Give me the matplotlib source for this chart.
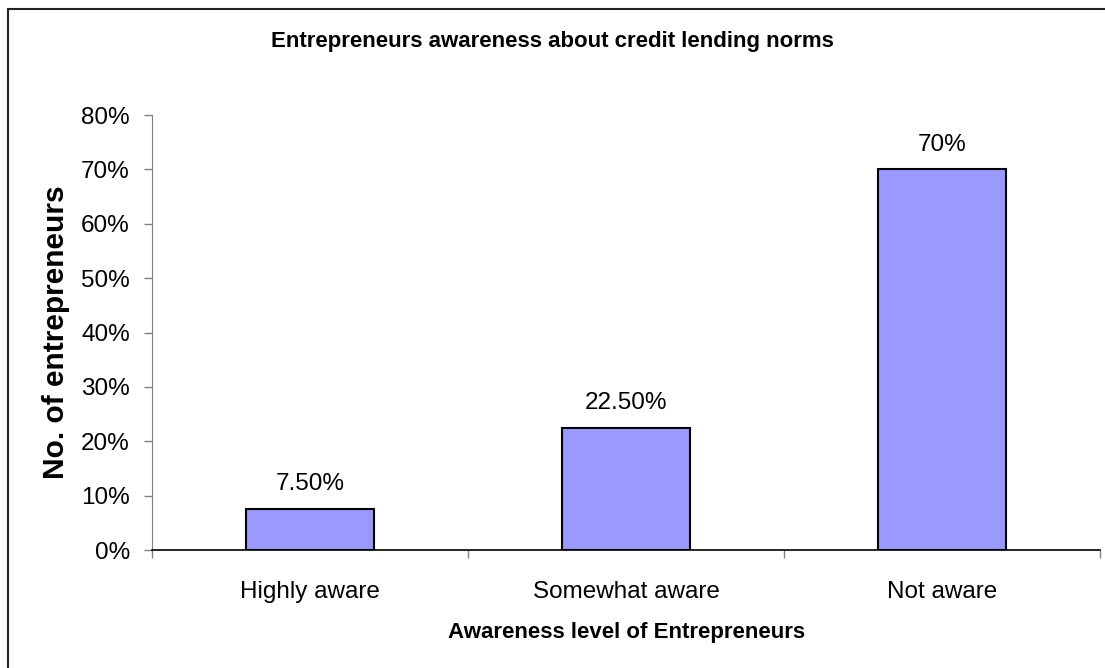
import matplotlib.pyplot as plt
from matplotlib.patches import Rectangle
from matplotlib.ticker import FuncFormatter

plt.rcParams['font.family'] = ['Liberation Sans', 'DejaVu Sans']

categories = ["Highly aware", "Somewhat aware", "Not aware"]
shares = [7.5, 22.5, 70]
share_labels = ["7.50%", "22.50%", "70%"]
y_ticks = [0, 10, 20, 30, 40, 50, 60, 70, 80]

fig = plt.figure(figsize=(11.05, 6.68), dpi=100)
ax = fig.add_axes([0.1376, 0.1766, 0.858, 0.6512])

pos = range(len(categories))
bars = ax.bar(pos, shares, width=0.405, color="#9999FF", edgecolor="black",
              linewidth=1.5, zorder=3)

for b, txt in zip(bars, share_labels):
    ax.annotate(txt, (b.get_x() + b.get_width() / 2, b.get_height()),
                xytext=(0, 10), textcoords="offset points",
                ha="center", va="bottom", fontsize=17.5)

ax.set_xlim(-0.5, 2.5)
ax.set_ylim(0, 80)
ax.set_yticks(y_ticks)
ax.yaxis.set_major_formatter(FuncFormatter(lambda v, p: f"{v:.0f}%"))
ax.tick_params(axis="y", labelsize=17.5, length=6, width=1, color="#808080", pad=10)

# category boundaries carry the x ticks, names sit between them
ax.set_xticks([-0.5, 0.5, 1.5, 2.5])
ax.set_xticklabels([])
ax.set_xticks(list(pos), minor=True)
ax.set_xticklabels(categories, minor=True, fontsize=17.5)
ax.tick_params(axis="x", which="major", direction="out", length=6, width=1, color="#808080")
ax.tick_params(axis="x", which="minor", length=0, pad=22)

for s in ["top", "right"]:
    ax.spines[s].set_visible(False)
ax.spines["left"].set_color("#808080")
ax.spines["bottom"].set_color("black")
ax.spines["bottom"].set_linewidth(1.2)

ax.set_xlabel("Awareness level of Entrepreneurs", fontsize=16, fontweight="bold", labelpad=14)
ax.set_ylabel("No. of entrepreneurs", fontsize=21.5, fontweight="bold", labelpad=8)
fig.text(0.5, 1 - 41 / 668, "Entrepreneurs awareness about credit lending norms",
         ha="center", va="center", fontsize=16, fontweight="bold")

# chart area frame
fig.patches.append(Rectangle((8 / 1105, -0.1), 1.2, 1.1 - 9 / 668, transform=fig.transFigure,
                             fill=False, edgecolor="#222222", linewidth=1.5))

fig.savefig("out.png", dpi=100)
